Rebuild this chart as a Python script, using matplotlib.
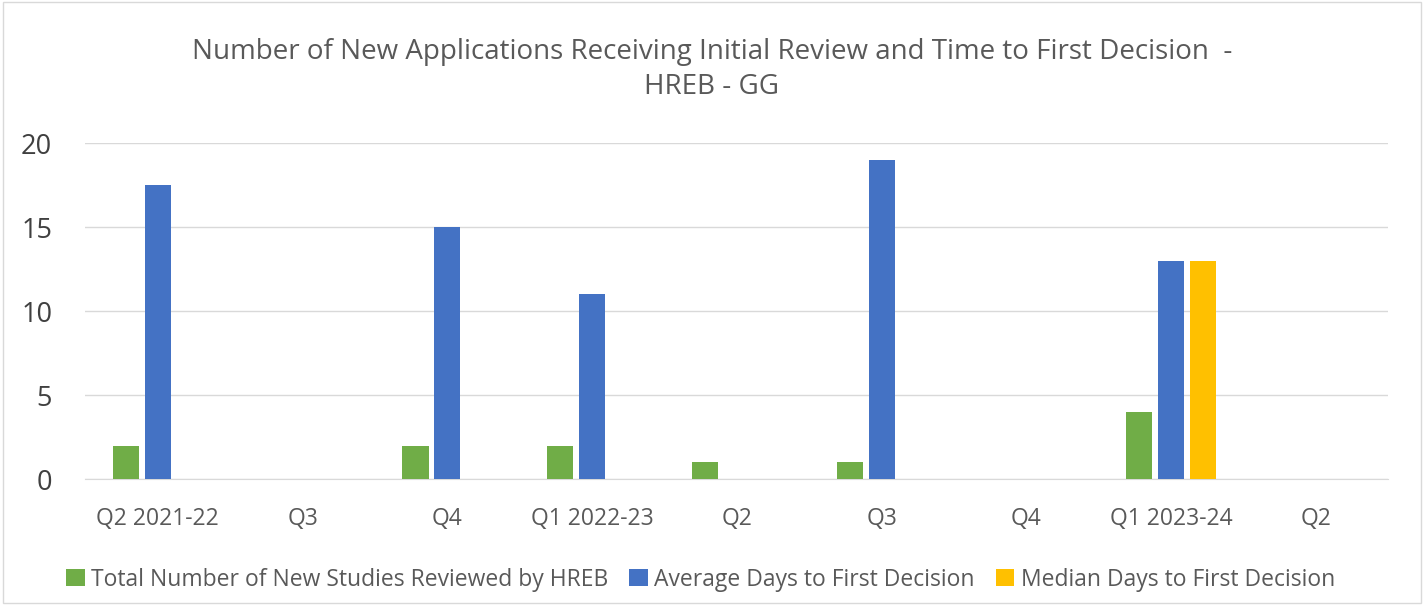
import matplotlib.pyplot as plt
import numpy as np

plt.rcParams['font.family'] = ['Open Sans', 'DejaVu Sans']

quarters = ['Q2 2021-22', 'Q3', 'Q4', 'Q1 2022-23', 'Q2', 'Q3', 'Q4', 'Q1 2023-24', 'Q2']
total_new = [2, 0, 2, 2, 1, 1, 0, 4, 0]
avg_days = [17.5, 0, 15, 11, 0, 19, 0, 13, 0]
median_days = [0, 0, 0, 0, 0, 0, 0, 13, 0]

series = [
    ('Total Number of New Studies Reviewed by HREB', total_new, '#70ad47'),
    ('Average Days to First Decision', avg_days, '#4472c4'),
    ('Median Days to First Decision', median_days, '#ffc000'),
]

fig = plt.figure(figsize=(14.24, 6.05), dpi=100)
ax = fig.add_axes([0.06, 0.208, 0.915, 0.555])

x = np.arange(len(quarters))
width = 0.18
pitch = 0.22
for i, (name, vals, col) in enumerate(series):
    ax.bar(x + (i - 1) * pitch, vals, width, color=col, label=name, zorder=3)

ax.set_xlim(-0.5, len(quarters) - 0.5)
ax.set_ylim(0, 20)
ax.set_yticks([0, 5, 10, 15, 20])
ax.set_xticks(x)
ax.set_xticklabels(quarters, fontsize=16.5, color='#595959')
ax.tick_params(axis='y', labelsize=19.5, colors='#404040', length=0, pad=24)
ax.tick_params(axis='x', length=0, pad=20)
ax.grid(axis='y', color='#d9d9d9', linewidth=1, zorder=0)
for s in ['top', 'right', 'left']:
    ax.spines[s].set_visible(False)
ax.spines['bottom'].set_color('#d9d9d9')

fig.text(0.5, 0.885, 'Number of New Applications Receiving Initial Review and Time to First Decision  -\nHREB - GG',
         ha='center', va='center', fontsize=20, color='#595959', linespacing=1.3)

fig.legend(loc='center', ncol=3, bbox_to_anchor=(0.492, 0.042), frameon=False,
           fontsize=16.5, handlelength=0.8, handleheight=0.8, handletextpad=0.3,
           columnspacing=0.9, labelcolor='#595959')

fig.patches.append(plt.Rectangle((0.002, 0.003), 0.996, 0.994, transform=fig.transFigure,
                                 fill=False, edgecolor='#d9d9d9', linewidth=1))

fig.savefig('out.png', dpi=100)
